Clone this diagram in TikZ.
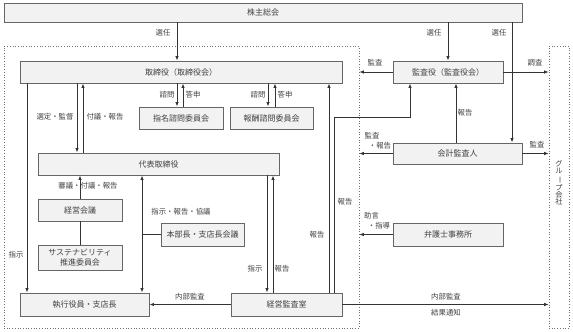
\documentclass[tikz,border=0pt]{standalone}
\usepackage{fontspec}
\usepackage{graphicx}
\setmainfont{Noto Sans CJK JP}
\usetikzlibrary{arrows.meta,calc}
\definecolor{boxfill}{HTML}{F2F2F2}
\definecolor{boxline}{HTML}{666666}
\definecolor{conn}{HTML}{333333}
\definecolor{txt}{HTML}{404040}
\definecolor{dotc}{HTML}{707070}
\tikzset{
  box/.style={draw=boxline, fill=boxfill, line width=0.9pt, inner sep=0pt, font=\fontsize{8}{9}\selectfont, text=txt},
  lbl/.style={font=\fontsize{7.4}{8}\selectfont, text=txt, inner sep=0pt},
  arr/.style={draw=conn, line width=0.8pt, -{Latex[length=4.5pt,width=3.5pt]}},
  darr/.style={draw=conn, line width=0.8pt, {Latex[length=4.5pt,width=3.5pt]}-{Latex[length=4.5pt,width=3.5pt]}},
  ln/.style={draw=conn, line width=0.8pt},
  region/.style={draw=dotc, dotted, line width=0.7pt, inner sep=0pt}
}
\begin{document}
\begin{tikzpicture}[x=1pt,y=-1pt]
\useasboundingbox (0,0) rectangle (573,332);
% regions
\node[region, minimum width=355pt, minimum height=282pt] (inner) at (181.5,187) {};
\node[region, minimum width=20pt, minimum height=282pt] (group) at (559,187) {};
\node[lbl, align=center, font=\fontsize{7.2}{7.3}\selectfont] (grouptxt) at (559,183) {グ\\ル\\\rotatebox[origin=c]{-90}{ー}\\プ\\会\\社};
% boxes
\node[box, minimum width=518pt, minimum height=19pt] (kabu) at (263,12.5) {株主総会};
\node[box, minimum width=322pt, minimum height=22pt] (tori) at (181,72) {取締役（取締役会）};
\node[box, minimum width=110pt, minimum height=22pt] (kansa) at (448,72) {監査役（監査役会）};
\node[box, minimum width=84pt, minimum height=22pt] (shimei) at (181,118) {指名諮問委員会};
\node[box, minimum width=83pt, minimum height=22pt] (hoshu) at (271.5,118) {報酬諮問委員会};
\node[box, minimum width=241pt, minimum height=22pt] (daihyo) at (158.5,164) {代表取締役};
\node[box, minimum width=129pt, minimum height=21pt] (kaikei) at (457.5,153.5) {会計監査人};
\node[box, minimum width=84pt, minimum height=22pt] (keiei) at (80,210) {経営会議};
\node[box, minimum width=84pt, minimum height=25pt, align=center, font=\fontsize{8}{9.5}\selectfont] (sus) at (80,257.5) {サステナビリティ\\推進委員会};
\node[box, minimum width=83pt, minimum height=23pt] (honbu) at (202.5,234.5) {本部長・支店長会議};
\node[box, minimum width=110pt, minimum height=23pt] (bengo) at (448,234.5) {弁護士事務所};
\node[box, minimum width=129pt, minimum height=23pt] (shikko) at (84.5,304.5) {執行役員・支店長};
\node[box, minimum width=111pt, minimum height=23pt] (kshitsu) at (286.5,304.5) {経営監査室};
% helper coordinates
\coordinate (c177) at (177,0);
\coordinate (c183) at (183,0);
\coordinate (c268) at (268,0);
\coordinate (c275) at (275,0);
\coordinate (c512) at (512,0);
\coordinate (c456) at (456,0);
\coordinate (c77) at (77,0);
\coordinate (c83) at (83,0);
\coordinate (c27) at (27,0);
\coordinate (c142) at (142,0);
\coordinate (c267) at (267,0);
\coordinate (c273) at (273,0);
\coordinate (c329) at (329,0);
\coordinate (c334) at (334,0);
\coordinate (bendA) at (334,117);
\coordinate (bendB) at (410,117);
% connectors
\draw[arr] (kabu.south -| c177) -- (tori.north -| c177);
\draw[arr] (kabu.south -| kansa.north) -- (kansa.north);
\draw[arr] (kabu.south -| c512) -- (kaikei.north -| c512);
\draw[arr] (kansa.west) -- (kansa.west -| inner.east);
\draw[arr] (kansa.east) -- (kansa.east -| group.west);
\draw[arr] (kaikei.north -| c456) -- (kansa.south -| c456);
\draw[arr] (kaikei.west) -- (kaikei.west -| inner.east);
\draw[arr] (kaikei.east) -- (kaikei.east -| group.west);
\draw[arr] (bengo.west) -- (bengo.west -| inner.east);
\draw[arr] (tori.south -| c77) -- (daihyo.north -| c77);
\draw[arr] (daihyo.north -| c83) -- (tori.south -| c83);
\draw[arr] (tori.south -| c177) -- (shimei.north -| c177);
\draw[arr] (shimei.north -| c183) -- (tori.south -| c183);
\draw[arr] (tori.south -| c268) -- (hoshu.north -| c268);
\draw[arr] (hoshu.north -| c275) -- (tori.south -| c275);
\draw[arr] (tori.south -| c27) -- (shikko.north -| c27);
\draw[arr] (keiei.north) -- (daihyo.south -| keiei.north);
\draw[ln] (keiei.south) -- (sus.north);
\draw[darr] (daihyo.south -| c142) -- (shikko.north -| c142);
\draw[ln] (honbu.west -| c142) -- (honbu.west);
\draw[arr] (daihyo.south -| c267) -- (kshitsu.north -| c267);
\draw[arr] (kshitsu.north -| c273) -- (daihyo.south -| c273);
\draw[arr] (kshitsu.north -| c329) -- (tori.south -| c329);
\draw[arr] (kshitsu.north -| c334) -- (bendA) -- (bendB) -- (kansa.south -| bendB);
\draw[arr] (kshitsu.west) -- (shikko.east);
\draw[arr] (kshitsu.east) -- (kshitsu.east -| group.west);
% labels
\node[lbl] (l1) at (163,33) {選任};
\node[lbl] (l2) at (434,33) {選任};
\node[lbl] (l3) at (499,33) {選任};
\node[lbl] (l4) at (375,63) {監査};
\node[lbl] (l5) at (535,63) {調査};
\node[lbl] (l6) at (465,113) {報告};
\node[lbl] (l7) at (372,135.5) {監査};
\node[lbl] (l8) at (380,145.5) {・報告};
\node[lbl] (l9) at (537,145) {監査};
\node[lbl] (l10) at (371.5,215.5) {助言};
\node[lbl] (l11) at (379,225.5) {・指導};
\node[lbl] (l12) at (167,95) {諮問};
\node[lbl] (l13) at (193,95) {答申};
\node[lbl] (l14) at (258,95) {諮問};
\node[lbl] (l15) at (285,95) {答申};
\node[lbl] (l16) at (55,117) {選定・監督};
\node[lbl] (l17) at (105,117) {付議・報告};
\node[lbl] (l18) at (88,186) {審議・付議・報告};
\node[lbl] (l19) at (181,212) {指示・報告・協議};
\node[lbl] (l20) at (16,255) {指示};
\node[lbl] (l21) at (255,269) {指示};
\node[lbl] (l22) at (282,269) {報告};
\node[lbl] (l23) at (317,235) {報告};
\node[lbl] (l24) at (345,202) {報告};
\node[lbl] (l25) at (190,297) {内部監査};
\node[lbl] (l26) at (446,297) {内部監査};
\node[lbl] (l27) at (446,313) {結果通知};
\end{tikzpicture}
\end{document}
